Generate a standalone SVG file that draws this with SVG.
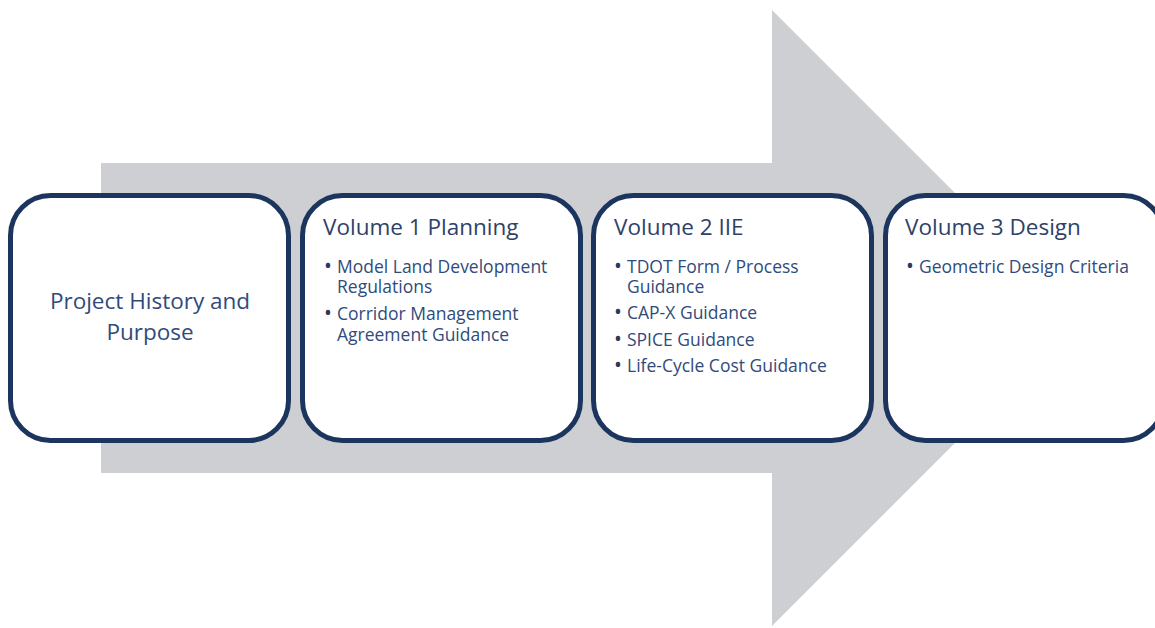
<svg xmlns="http://www.w3.org/2000/svg" width="1155" height="628" viewBox="0 0 1155 628">
  <style>
    .box { fill: #ffffff; stroke: #1c355e; stroke-width: 5; }
    .title { font-family: "Open Sans", "Liberation Sans", sans-serif; font-size: 22.5px; fill: #2f4167; }
    .item { font-family: "Open Sans", "Liberation Sans", sans-serif; font-size: 17.5px; fill: #2f4b7c; }
    .dot { font-size: 21px; fill: #2a3a5c; }
    .center { font-family: "Open Sans", "Liberation Sans", sans-serif; font-size: 22.5px; fill: #2f4b7c; text-anchor: middle; }
  </style>

  <!-- big grey process arrow behind the boxes -->
  <g id="arrow">
    <polygon points="101,163 772,163 772,10 1080,318 772,626 772,473 101,473" fill="#cdcfd3"/>
  </g>

  <g id="connectors"></g>

  <g id="node-history">
    <rect class="box" x="10.5" y="195.5" width="278" height="245" rx="40" ry="40"/>
    <text class="center" x="150" y="309">Project History and<tspan x="150" dy="31">Purpose</tspan></text>
  </g>

  <g id="node-volume1">
    <rect class="box" x="302.5" y="195.5" width="278" height="245" rx="40" ry="40"/>
    <text class="title" x="323" y="235">Volume 1 Planning</text>
    <text class="item" x="324" y="273"><tspan class="dot">•</tspan><tspan x="337">Model Land Development</tspan><tspan x="337" dy="20">Regulations</tspan></text>
    <text class="item" x="324" y="320"><tspan class="dot">•</tspan><tspan x="337">Corridor Management</tspan><tspan x="337" dy="21">Agreement Guidance</tspan></text>
  </g>

  <g id="node-volume2">
    <rect class="box" x="593.5" y="195.5" width="278" height="245" rx="40" ry="40"/>
    <text class="title" x="614" y="235">Volume 2 IIE</text>
    <text class="item" x="614" y="273"><tspan class="dot">•</tspan><tspan x="627">TDOT Form / Process</tspan><tspan x="627" dy="20">Guidance</tspan></text>
    <text class="item" x="614" y="319"><tspan class="dot">•</tspan><tspan x="627">CAP-X Guidance</tspan></text>
    <text class="item" x="614" y="346"><tspan class="dot">•</tspan><tspan x="627">SPICE Guidance</tspan></text>
    <text class="item" x="614" y="372"><tspan class="dot">•</tspan><tspan x="627">Life-Cycle Cost Guidance</tspan></text>
  </g>

  <g id="node-volume3">
    <rect class="box" x="885.5" y="195.5" width="278" height="245" rx="40" ry="40"/>
    <text class="title" x="905" y="235">Volume 3 Design</text>
    <text class="item" x="906" y="273"><tspan class="dot">•</tspan><tspan x="919">Geometric Design Criteria</tspan></text>
  </g>
</svg>
